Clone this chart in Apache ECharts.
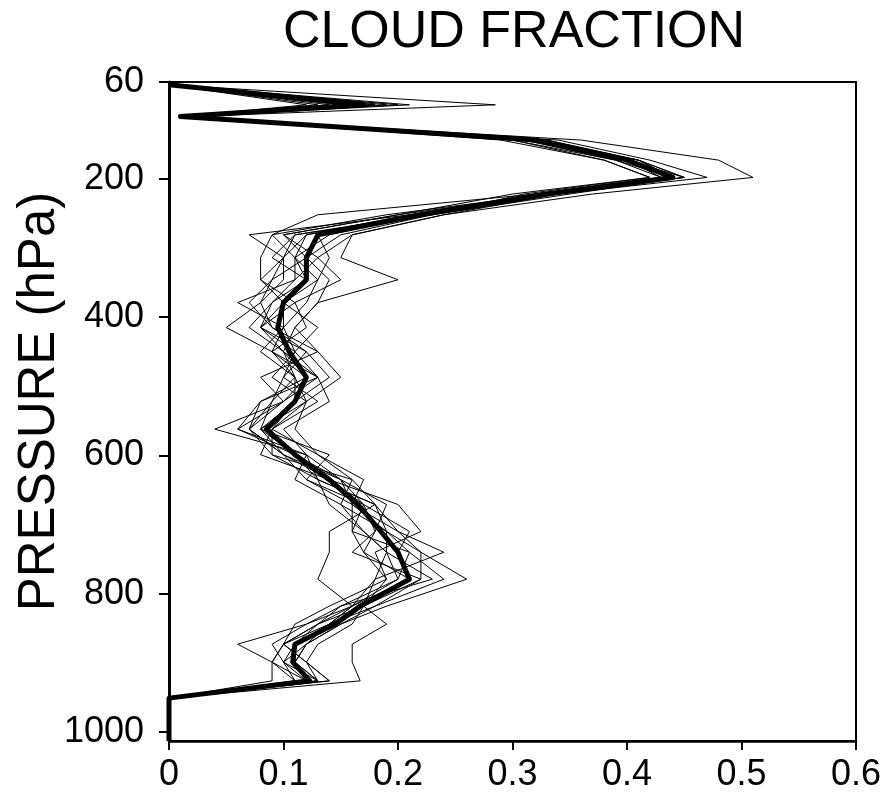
<!DOCTYPE html>
<html>
<head>
<meta charset="utf-8">
<script src="https://cdn.jsdelivr.net/npm/echarts@6/dist/echarts.min.js"></script>
<style>
html,body{margin:0;padding:0;background:#fff;}
#chart{width:887px;height:795px;}
</style>
</head>
<body>
<div id="chart"></div>
<script>
// Pressure levels (hPa)
const levels = [64, 93, 110, 144, 173, 198, 222, 252, 281, 314, 346, 379, 415, 450, 487, 522, 562, 599, 635, 671, 710, 740, 779, 818, 844, 873, 899, 926, 951, 1013];
// Ensemble mean cloud fraction (thick line)
const meanProfile = [0, 0.17, 0.01, 0.32, 0.40, 0.44, 0.33, 0.22, 0.13, 0.12, 0.12, 0.10, 0.095, 0.105, 0.12, 0.11, 0.085, 0.11, 0.14, 0.165, 0.185, 0.20, 0.21, 0.167, 0.145, 0.11, 0.108, 0.123, 0, 0];
// Individual members (thin lines)
const member01 = [0, 0.20, 0.01, 0.36, 0.48, 0.51, 0.37, 0.24, 0.16, 0.15, 0.20, 0.13, 0.11, 0.13, 0.15, 0.12, 0.11, 0.13, 0.16, 0.18, 0.20, 0.22, 0.26, 0.19, 0.15, 0.12, 0.11, 0.13, 0, 0];
const member02 = [0, 0.285, 0.02, 0.34, 0.42, 0.47, 0.34, 0.21, 0.07, 0.10, 0.09, 0.08, 0.05, 0.09, 0.11, 0.09, 0.07, 0.10, 0.15, 0.17, 0.16, 0.21, 0.24, 0.18, 0.14, 0.12, 0.10, 0.12, 0, 0];
const member03 = [0, 0.12, 0.01, 0.30, 0.39, 0.43, 0.32, 0.13, 0.09, 0.08, 0.08, 0.11, 0.12, 0.09, 0.13, 0.10, 0.04, 0.12, 0.13, 0.18, 0.14, 0.14, 0.13, 0.16, 0.12, 0.06, 0.09, 0.09, 0, 0];
const member04 = [0, 0.15, 0.01, 0.31, 0.40, 0.44, 0.34, 0.24, 0.16, 0.13, 0.15, 0.11, 0.08, 0.12, 0.10, 0.13, 0.09, 0.08, 0.14, 0.20, 0.22, 0.18, 0.19, 0.17, 0.19, 0.16, 0.16, 0.167, 0, 0];
const member05 = [0, 0.18, 0.01, 0.32, 0.41, 0.45, 0.33, 0.20, 0.10, 0.12, 0.09, 0.07, 0.09, 0.13, 0.08, 0.10, 0.06, 0.12, 0.11, 0.15, 0.17, 0.19, 0.20, 0.15, 0.12, 0.09, 0.10, 0.11, 0, 0];
const member06 = [0, 0.16, 0.02, 0.30, 0.38, 0.42, 0.31, 0.23, 0.11, 0.09, 0.12, 0.10, 0.13, 0.11, 0.10, 0.09, 0.08, 0.14, 0.12, 0.17, 0.18, 0.17, 0.19, 0.14, 0.11, 0.10, 0.09, 0.11, 0, 0];
const member07 = [0, 0.19, 0.01, 0.33, 0.41, 0.44, 0.34, 0.22, 0.14, 0.11, 0.11, 0.09, 0.07, 0.10, 0.12, 0.08, 0.07, 0.09, 0.16, 0.15, 0.19, 0.21, 0.20, 0.16, 0.13, 0.10, 0.12, 0.14, 0, 0];
const member08 = [0, 0.14, 0.01, 0.31, 0.40, 0.43, 0.32, 0.22, 0.13, 0.14, 0.13, 0.12, 0.10, 0.08, 0.11, 0.12, 0.09, 0.13, 0.17, 0.16, 0.20, 0.24, 0.18, 0.17, 0.16, 0.13, 0.12, 0.14, 0, 0];
const member09 = [0, 0.21, 0.02, 0.32, 0.40, 0.45, 0.33, 0.21, 0.12, 0.10, 0.10, 0.08, 0.09, 0.12, 0.14, 0.11, 0.08, 0.11, 0.13, 0.14, 0.17, 0.19, 0.23, 0.15, 0.13, 0.11, 0.10, 0.13, 0, 0];
const member10 = [0, 0.13, 0.01, 0.29, 0.38, 0.42, 0.30, 0.20, 0.10, 0.13, 0.11, 0.06, 0.10, 0.09, 0.12, 0.10, 0.07, 0.10, 0.12, 0.16, 0.16, 0.17, 0.21, 0.17, 0.14, 0.10, 0.09, 0.12, 0, 0];
const member11 = [0, 0.17, 0.01, 0.33, 0.41, 0.45, 0.35, 0.23, 0.15, 0.12, 0.14, 0.13, 0.11, 0.10, 0.13, 0.14, 0.10, 0.12, 0.15, 0.19, 0.18, 0.16, 0.22, 0.18, 0.15, 0.12, 0.11, 0.12, 0, 0];
const member12 = [0, 0.16, 0.01, 0.31, 0.39, 0.44, 0.32, 0.22, 0.12, 0.11, 0.12, 0.09, 0.08, 0.11, 0.09, 0.12, 0.08, 0.10, 0.14, 0.17, 0.21, 0.20, 0.21, 0.16, 0.14, 0.11, 0.11, 0.12, 0, 0];
const member13 = [0, 0.18, 0.01, 0.32, 0.40, 0.44, 0.33, 0.19, 0.09, 0.11, 0.13, 0.10, 0.08, 0.10, 0.11, 0.11, 0.09, 0.09, 0.13, 0.18, 0.19, 0.22, 0.22, 0.17, 0.13, 0.10, 0.12, 0.13, 0, 0];
const member14 = [0, 0.17, 0.01, 0.32, 0.41, 0.44, 0.32, 0.22, 0.11, 0.10, 0.08, 0.10, 0.10, 0.11, 0.13, 0.08, 0.06, 0.11, 0.15, 0.16, 0.19, 0.19, 0.18, 0.16, 0.14, 0.11, 0.11, 0.13, 0, 0];
const members = [member01, member02, member03, member04, member05, member06, member07, member08, member09, member10, member11, member12, member13, member14];

// Axis tick labels
const xTicks = [0, 0.1, 0.2, 0.3, 0.4, 0.5, 0.6];
const yTicks = [60, 200, 400, 600, 800, 1000];
const titleText = 'CLOUD FRACTION';
const yAxisName = 'PRESSURE (hPa)';

const FONT = '"Liberation Sans", Arial, sans-serif';

function toPairs(arr) { return arr.map((v, i) => [v, levels[i]]); }

const series = members.map((m, k) => ({
  type: 'line', name: 'member' + (k + 1), data: toPairs(m),
  symbol: 'none', silent: true, z: 2,
  lineStyle: { color: '#000', width: 1 }
}));
series.push({
  type: 'line', name: 'mean', data: toPairs(meanProfile),
  symbol: 'none', silent: true, z: 3,
  lineStyle: { color: '#000', width: 5, join: 'round' }
});

const chart = echarts.init(document.getElementById('chart'), null, { renderer: 'canvas' });
chart.setOption({
  animation: false,
  backgroundColor: '#fff',
  title: {
    text: titleText, left: 509, top: 2, textAlign: 'center',
    textStyle: { fontFamily: FONT, fontSize: 52, fontWeight: 'normal', color: '#000' }
  },
  grid: {
    left: 169, right: 31, top: 82, bottom: 54,
    containLabel: false, outerBoundsMode: 'none',
    show: true, borderColor: '#000', borderWidth: 2, backgroundColor: 'transparent'
  },
  xAxis: {
    type: 'value', min: 0, max: 0.6, interval: 0.1,
    axisLine: { show: true, lineStyle: { color: '#000', width: 2.5 } },
    axisTick: { show: true, inside: false, length: 9, lineStyle: { color: '#000', width: 2 } },
    axisLabel: { margin: 16, fontFamily: FONT, fontSize: 36, color: '#000',
      customValues: xTicks, formatter: v => String(+(+v).toFixed(1)) },
    splitLine: { show: false }
  },
  yAxis: {
    type: 'value', inverse: true, min: 60, max: 1013,
    name: yAxisName, nameLocation: 'middle', nameRotate: 90, nameGap: 104, nameMoveOverlap: false,
    nameTextStyle: { fontFamily: FONT, fontSize: 51, color: '#000', padding: [0, 0, 0, 20] },
    axisLine: { show: true, lineStyle: { color: '#000', width: 3 } },
    axisTick: { show: true, inside: false, length: 10, customValues: yTicks, lineStyle: { color: '#000', width: 2 } },
    axisLabel: { margin: 25, fontFamily: FONT, fontSize: 36, color: '#000', customValues: yTicks,
      formatter: v => String(Math.round(v)) },
    splitLine: { show: false }
  },
  series: series
});
</script>
</body>
</html>
